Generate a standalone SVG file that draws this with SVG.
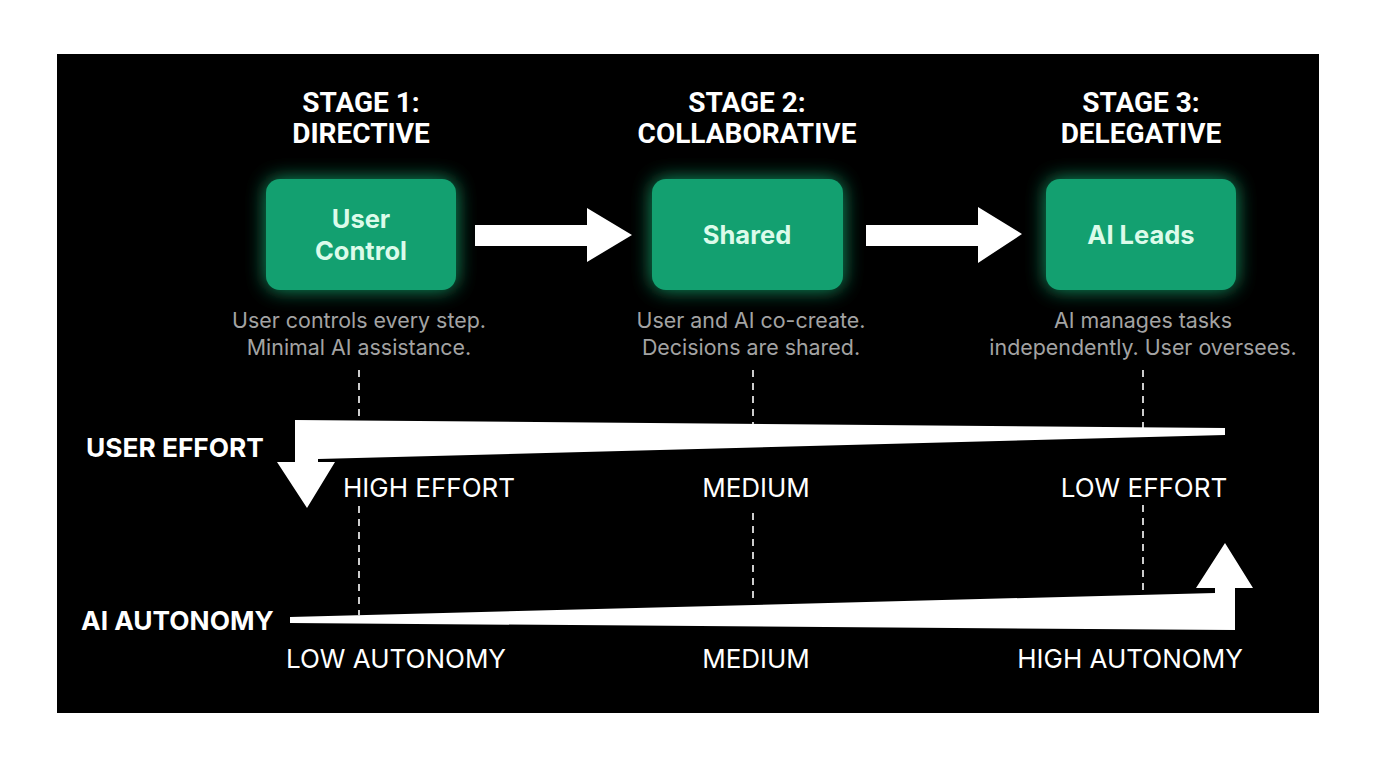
<svg xmlns="http://www.w3.org/2000/svg" width="1376" height="768" viewBox="0 0 1376 768">
<defs>
<style>
.hdr{font-family:Roboto,"Liberation Sans",sans-serif;font-weight:700;font-size:28px;fill:#ffffff;text-anchor:middle}
.box{fill:#13a070}
.glow{fill:#1fd08a;opacity:0.75}
.blab{font-family:Inter,"Liberation Sans",sans-serif;font-weight:700;font-size:25.5px;fill:#dcfbea;text-anchor:middle}
.desc{font-family:Inter,"Liberation Sans",sans-serif;font-size:21.4px;fill:#a3a3a3;text-anchor:middle}
.lvl{font-family:Inter,"Liberation Sans",sans-serif;font-size:26px;fill:#ffffff;text-anchor:middle}
.axis{font-family:Inter,"Liberation Sans",sans-serif;font-weight:700;font-size:26.3px;fill:#ffffff}
.dash{stroke:#ffffff;stroke-width:1.6;stroke-dasharray:7 6;fill:none}
.white{fill:#ffffff}
</style>
<filter id="blur" x="-30%" y="-40%" width="160%" height="180%">
<feGaussianBlur stdDeviation="10"/>
</filter>
</defs>
<rect x="0" y="0" width="1376" height="768" fill="#ffffff"/>
<rect x="57" y="54" width="1262" height="659" fill="#000000"/>

<g id="connectors">
<line class="dash" x1="359" y1="370" x2="359" y2="420"/>
<line class="dash" x1="359" y1="506" x2="359" y2="615"/>
<line class="dash" x1="753" y1="370" x2="753" y2="425"/>
<line class="dash" x1="753" y1="513" x2="753" y2="602"/>
<line class="dash" x1="1143" y1="370" x2="1143" y2="428"/>
<line class="dash" x1="1143" y1="505" x2="1143" y2="592"/>
<polygon class="white" points="475,225 587,225 587,208 632,235 587,262 587,246 475,246"/>
<polygon class="white" points="866,225 978,225 978,207 1022,234 978,263 978,246 866,246"/>
<polygon id="user-effort-arrow" class="white" points="1225,428 1225,435 318,459 318,462 335,462 307,508 277,462 295,462 295,420"/>
<polygon id="ai-autonomy-arrow" class="white" points="290,617 1215,593 1215,588 1196,588 1225,543 1253,588 1235,588 1235,630 290,623"/>
</g>

<g id="stage1">
<text class="hdr" x="361" y="112">STAGE 1:</text>
<text class="hdr" x="361" y="143">DIRECTIVE</text>
<rect class="glow" x="266" y="179" width="190" height="111" rx="14" filter="url(#blur)"/>
<rect class="box" x="266" y="179" width="190" height="111" rx="14"/>
<text class="blab" x="361" y="228">User</text>
<text class="blab" x="361" y="260">Control</text>
<text class="desc" x="359" y="328">User controls every step.</text>
<text class="desc" x="359" y="355">Minimal AI assistance.</text>
</g>

<g id="stage2">
<text class="hdr" x="747" y="112">STAGE 2:</text>
<text class="hdr" x="747" y="143">COLLABORATIVE</text>
<rect class="glow" x="652" y="179" width="191" height="111" rx="14" filter="url(#blur)"/>
<rect class="box" x="652" y="179" width="191" height="111" rx="14"/>
<text class="blab" x="747" y="244">Shared</text>
<text class="desc" x="751" y="328">User and AI co-create.</text>
<text class="desc" x="751" y="355">Decisions are shared.</text>
</g>

<g id="stage3">
<text class="hdr" x="1141" y="112">STAGE 3:</text>
<text class="hdr" x="1141" y="143">DELEGATIVE</text>
<rect class="glow" x="1046" y="179" width="190" height="111" rx="14" filter="url(#blur)"/>
<rect class="box" x="1046" y="179" width="190" height="111" rx="14"/>
<text class="blab" x="1141" y="244">AI Leads</text>
<text class="desc" x="1143" y="328">AI manages tasks</text>
<text class="desc" x="1143" y="355">independently. User oversees.</text>
</g>

<g id="user-effort">
<text class="axis" x="86" y="457">USER EFFORT</text>
<text class="lvl" x="429" y="497">HIGH EFFORT</text>
<text class="lvl" x="756" y="497">MEDIUM</text>
<text class="lvl" x="1144" y="497">LOW EFFORT</text>
</g>

<g id="ai-autonomy">
<text class="axis" x="81" y="630">AI AUTONOMY</text>
<text class="lvl" x="396" y="668">LOW AUTONOMY</text>
<text class="lvl" x="756" y="668">MEDIUM</text>
<text class="lvl" x="1130" y="668">HIGH AUTONOMY</text>
</g>
</svg>
